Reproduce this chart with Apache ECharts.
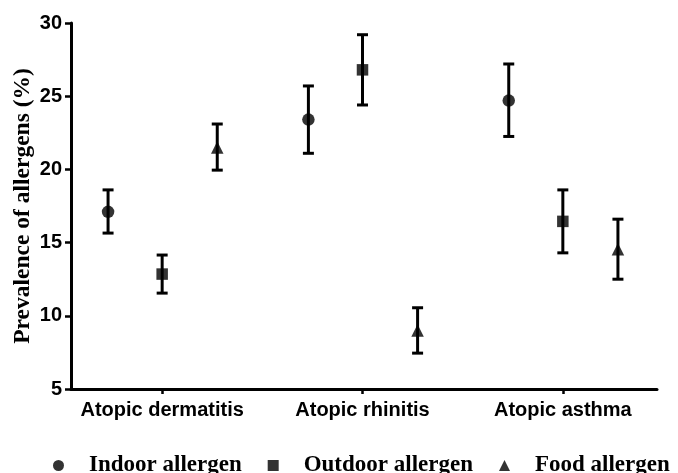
<!DOCTYPE html>
<html>
<head>
<meta charset="utf-8">
<script src="https://cdn.jsdelivr.net/npm/echarts@6/dist/echarts.min.js"></script>
<style>html,body{margin:0;padding:0;background:#fff}#c{width:678px;height:473px}</style>
</head>
<body>
<div id="c"></div>
<script>
const categories = ['Atopic dermatitis', 'Atopic rhinitis', 'Atopic asthma'];
const seriesNames = ['Indoor allergen', 'Outdoor allergen', 'Food allergen'];
const indoorMean = [17.1, 23.4, 24.7];
const indoorLow = [15.65, 21.1, 22.25];
const indoorHigh = [18.6, 25.7, 27.2];
const outdoorMean = [12.85, 26.8, 16.45];
const outdoorLow = [11.55, 24.4, 14.3];
const outdoorHigh = [14.15, 29.2, 18.6];
const foodMean = [21.5, 9.0, 14.55];
const foodLow = [19.95, 7.45, 12.5];
const foodHigh = [23.1, 10.55, 16.6];
const yTicks = [5, 10, 15, 20, 25, 30];

const groups = [
  {name: seriesNames[0], mean: indoorMean, low: indoorLow, high: indoorHigh, symbol: 'circle', size: 12.5, offset: -0.27},
  {name: seriesNames[1], mean: outdoorMean, low: outdoorLow, high: outdoorHigh, symbol: 'rect', size: 11.5, offset: 0},
  {name: seriesNames[2], mean: foodMean, low: foodLow, high: foodHigh, symbol: 'triangle', size: 12.5, offset: 0.275}
];

const series = [];
groups.forEach(function (g) {
  series.push({
    name: g.name + ' error',
    type: 'custom',
    silent: true,
    z: 2,
    data: categories.map(function (c, i) { return [i + g.offset, g.low[i], g.high[i]]; }),
    renderItem: function (params, api) {
      const x = api.value(0);
      const lo = api.coord([x, api.value(1)]);
      const hi = api.coord([x, api.value(2)]);
      const hw = 5.5;
      const st = {stroke: '#000', lineWidth: 3};
      return {
        type: 'group',
        children: [
          {type: 'line', shape: {x1: lo[0], y1: lo[1], x2: hi[0], y2: hi[1]}, style: st},
          {type: 'line', shape: {x1: lo[0] - hw, y1: lo[1], x2: lo[0] + hw, y2: lo[1]}, style: st},
          {type: 'line', shape: {x1: hi[0] - hw, y1: hi[1], x2: hi[0] + hw, y2: hi[1]}, style: st}
        ]
      };
    }
  });
  series.push({
    name: g.name,
    type: 'scatter',
    z: 3,
    symbol: g.symbol,
    symbolSize: g.size,
    itemStyle: {color: '#000'},
    data: categories.map(function (c, i) { return [i + g.offset, g.mean[i]]; })
  });
});

const chart = echarts.init(document.getElementById('c'), null, {renderer: 'canvas'});
chart.setOption({
  animation: false,
  backgroundColor: '#fff',
  grid: {left: 71, right: 21, top: 23, bottom: 84, containLabel: false, outerBoundsMode: 'none'},
  legend: {
    data: seriesNames.map(function (n, i) { return {name: n, icon: groups[i].symbol}; }),
    left: 48, top: 449,
    itemWidth: 11, itemHeight: 11, itemGap: 26,
    textStyle: {fontFamily: 'Liberation Serif', fontWeight: 'bold', fontSize: 23, color: '#000', padding: [0, 0, 0, 20]},
    itemStyle: {color: '#000'},
    selectedMode: false
  },
  xAxis: {
    type: 'value',
    min: -0.455, max: 2.47,
    splitLine: {show: false},
    axisLine: {onZero: false, lineStyle: {color: '#000', width: 3}},
    axisTick: {show: true, customValues: [0, 1, 2], length: 5, lineStyle: {color: '#000', width: 2.5}},
    axisLabel: {
      customValues: [0, 1, 2],
      formatter: function (v) { return categories[Math.round(v)]; },
      fontFamily: 'Liberation Sans', fontWeight: 'bold', fontSize: 20, color: '#000', margin: 11
    }
  },
  yAxis: {
    type: 'value',
    min: 5, max: 30, interval: 5,
    name: 'Prevalence of allergens (%)',
    nameLocation: 'middle',
    nameGap: 36,
    nameMoveOverlap: false,
    nameTextStyle: {fontFamily: 'Liberation Serif', fontWeight: 'bold', fontSize: 23.5, color: '#000'},
    splitLine: {show: false},
    axisLine: {show: true, onZero: false, lineStyle: {color: '#000', width: 3}},
    axisTick: {show: true, length: 6, lineStyle: {color: '#000', width: 2.5}},
    axisLabel: {
      fontFamily: 'Liberation Sans', fontWeight: 'bold', fontSize: 20, color: '#000', margin: 9,
      formatter: function (v) { return yTicks.indexOf(v) >= 0 ? String(v) : ''; }
    }
  },
  series: series
});
</script>
</body>
</html>
